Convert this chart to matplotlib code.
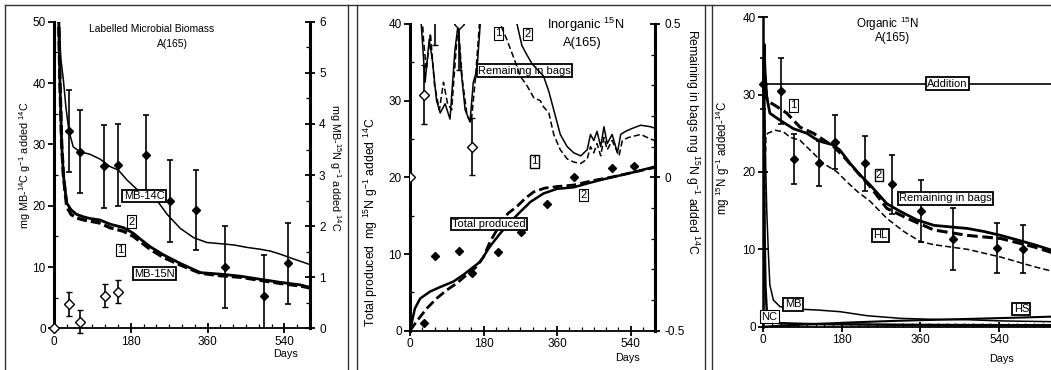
import numpy as np
import matplotlib
matplotlib.use('Agg')
import matplotlib.pyplot as plt
from matplotlib.lines import Line2D
from matplotlib.ticker import MultipleLocator, FixedLocator, FuncFormatter

plt.rcParams['font.family'] = ['Liberation Sans', 'DejaVu Sans']
plt.rcParams['mathtext.fontset'] = 'custom'
plt.rcParams['mathtext.rm'] = 'Liberation Sans'
plt.rcParams['mathtext.it'] = 'Liberation Sans:italic'
plt.rcParams['mathtext.default'] = 'regular'

# ---------------- DATA ----------------
# Panel 1: Labelled microbial biomass
obs_days_1 = [35, 61, 118, 150, 215, 272, 333, 400, 493, 548]
mb14c_obs = [32.2, 28.8, 26.4, 26.7, 28.2, 20.8, 19.3, 10.0, 5.3, 10.6]
mb14c_err = [6.7, 6.8, 6.7, 6.7, 6.6, 6.7, 6.6, 6.7, 6.7, 6.6]
mb15n_obs_days = [0, 35, 62, 119, 151]
mb15n_obs = [0.0, 0.48, 0.13, 0.64, 0.72]
mb15n_err = [0.0, 0.23, 0.23, 0.23, 0.22]

mb14c_model_days = [0, 2, 8, 12, 16, 22, 28, 35, 45, 61, 84, 108, 131, 151, 171, 200,
                    230, 241, 265, 296, 327, 358, 390, 421, 452, 483, 507, 530, 562, 600]
mb14c_model = [0, 80, 60, 50, 44, 40.5, 36, 32.2, 29.6, 28.8, 28.4, 27.6, 26.4, 25.8, 24.2, 22.3,
               21.2, 20.9, 18.6, 16.3, 14.8, 14.0, 13.8, 13.6, 13.2, 12.9, 12.6, 12.1, 11.3, 10.4]

mb15n_model_days = [0, 2, 8, 10, 14, 18, 22, 27, 30, 40, 53, 70, 84, 108, 131, 163, 186,
                    205, 225, 256, 296, 343, 390, 437, 483, 530, 577, 600]
mb15n_model2 = [0, 12, 7.5, 6.5, 4.8, 3.6, 3.0, 2.64, 2.45, 2.32, 2.23, 2.18, 2.15, 2.12, 2.04,
                1.97, 1.86, 1.73, 1.60, 1.44, 1.27, 1.09, 1.06, 1.02, 0.96, 0.90, 0.85, 0.80]
mb15n_model1 = [0, 12, 7.5, 6.5, 4.8, 3.6, 3.0, 2.60, 2.38, 2.23, 2.16, 2.12, 2.10, 2.06, 1.97,
                1.90, 1.80, 1.68, 1.55, 1.39, 1.24, 1.08, 1.03, 1.00, 0.94, 0.88, 0.83, 0.79]

# Panel 2: Inorganic 15N
obs_days_2 = [35, 62, 119, 151, 216, 273, 335, 401, 494, 549]
total_obs = [1.0, 9.7, 10.4, 7.5, 10.2, 12.9, 16.5, 20.1, 21.2, 21.5]
bag_obs_days = [0, 35, 62, 119, 151]
bag_obs = [0.0, 0.27, 0.56, 0.5, 0.10]
bag_err = [0.0, 0.095, 0.13, 0.15, 0.093]

total2_days = [0, 5, 12, 25, 49, 74, 106, 131, 155, 172, 196, 221, 246, 270, 295, 327, 360,
               401, 434, 470, 510, 550, 600]
total2 = [0, 1.2, 2.9, 4.2, 5.1, 5.7, 6.4, 7.3, 8.3, 9.0, 11.0, 12.7, 14.2, 15.5, 16.8, 17.9,
          18.5, 18.7, 19.2, 19.7, 20.2, 20.7, 21.4]
total1_days = [0, 16, 41, 65, 90, 115, 139, 160, 180, 196, 220, 240, 262, 283, 303, 330, 360,
               401, 450, 500, 550, 600]
total1 = [0, 1.2, 2.9, 4.2, 5.3, 6.2, 7.3, 8.2, 9.6, 11.6, 13.8, 15.3, 16.2, 17.3, 18.1, 18.6,
          18.8, 19.0, 19.6, 20.1, 20.7, 21.3]

bag2_days = [0, 2, 22, 25, 37, 47, 55, 65, 74, 86, 98, 110, 118, 125, 135, 147, 155, 164, 172,
             180, 250, 262, 274, 286, 299, 313, 327, 340, 352, 368, 385, 401, 418, 434, 442, 450,
             458, 467, 475, 483, 495, 508, 516, 528, 545, 565, 589, 600]
bag2 = [0.0, 1.0, 0.8, 0.55, 0.31, 0.45, 0.38, 0.25, 0.21, 0.24, 0.19, 0.415, 0.5, 0.35, 0.22,
        0.18, 0.31, 0.35, 0.5, 0.7, 0.6, 0.5, 0.43, 0.40, 0.37, 0.35, 0.33, 0.28, 0.22, 0.14,
        0.10, 0.08, 0.07, 0.09, 0.14, 0.12, 0.15, 0.10, 0.165, 0.11, 0.14, 0.08, 0.14, 0.15,
        0.16, 0.17, 0.165, 0.16]
bag1_days = [0, 2, 27, 33, 40, 50, 60, 72, 82, 92, 102, 112, 118, 128, 140, 150, 160, 170, 180,
             215, 221, 237, 254, 270, 286, 303, 319, 327, 340, 352, 368, 385, 401, 418, 434, 442,
             450, 458, 467, 475, 483, 495, 512, 520, 535, 565, 589, 600]
bag1 = [0.0, 1.0, 0.6, 0.45, 0.35, 0.47, 0.30, 0.22, 0.31, 0.24, 0.22, 0.40, 0.5, 0.32, 0.20,
        0.18, 0.32, 0.5, 0.7, 0.6, 0.5, 0.45, 0.39, 0.33, 0.30, 0.26, 0.25, 0.23, 0.21, 0.14,
        0.09, 0.06, 0.05, 0.045, 0.06, 0.10, 0.08, 0.11, 0.07, 0.13, 0.09, 0.12, 0.07, 0.12,
        0.13, 0.14, 0.125, 0.12]

# Panel 3: Organic 15N
obs_days_3 = [0, 40, 70, 128, 165, 234, 295, 361, 435, 535, 594]
org_obs = [31.4, 30.5, 21.7, 21.1, 23.9, 21.1, 18.4, 15.0, 11.3, 10.2, 10.0]
org_err = [3.3, 4.3, 3.2, 2.9, 3.5, 3.5, 3.8, 4.0, 4.0, 3.2, 3.1]
addition = 31.4

rem2_days = [0, 1, 2, 4, 8, 15, 38, 69, 100, 119, 134, 161, 176, 199, 222, 245, 283, 314, 352,
             391, 429, 468, 506, 544, 583, 621, 660]
rem2 = [31.4, 34, 36.5, 33, 29.7, 27.6, 26.7, 25.6, 25.0, 24.3, 23.9, 23.5, 22.8, 21.1, 19.6,
        18.3, 15.9, 14.9, 13.8, 13.1, 12.9, 12.7, 12.3, 11.8, 11.2, 10.6, 9.9]
rem1_days = [0, 1, 2, 4, 8, 15, 27, 54, 84, 115, 161, 184, 215, 245, 283, 330, 391, 468, 544,
             621, 660]
rem1 = [31.4, 33, 35, 31, 29.5, 29.0, 28.6, 27.6, 25.8, 25.0, 23.3, 22.0, 20.0, 18.1, 15.3,
        14.0, 12.5, 11.8, 11.4, 10.3, 9.6]
hl_days = [0, 2, 4, 6, 10, 27, 46, 61, 84, 115, 138, 169, 192, 215, 245, 283, 322, 360, 391,
           468, 544, 621, 660]
hl = [0, 10, 20, 24.5, 25.0, 25.4, 25.2, 24.5, 24.1, 22.4, 21.1, 20.0, 18.7, 17.5, 16.2, 14.0,
      12.3, 11.0, 10.6, 10.0, 9.0, 7.75, 7.2]
mb_days = [0, 1, 2, 3, 5, 8, 11.5, 15, 23, 38, 69, 123, 176, 238, 314, 391, 468, 544, 660]
mb = [0, 25, 36, 32, 22, 14.9, 9.7, 5.4, 3.45, 2.6, 2.3, 2.16, 1.94, 1.42, 1.08, 0.95, 0.9,
      0.75, 0.65]
nc_days = [0, 1, 2, 3, 5, 8, 12, 20, 40, 100, 200, 300, 400, 500, 660]
nc = [31.4, 28, 20, 12, 5, 2.0, 1.0, 0.6, 0.45, 0.35, 0.3, 0.25, 0.22, 0.2, 0.18]
hs_days = [0, 50, 100, 200, 300, 400, 500, 600, 660]
hs = [0, 0.15, 0.3, 0.55, 0.75, 0.9, 1.05, 1.2, 1.3]

x_major = [0, 180, 360, 540]

# ---------------- FIGURE ----------------
W, H = 1051, 370
fig = plt.figure(figsize=(W / 100, H / 100), dpi=100)


def axes_px(x0, x1, ytop, ybot):
    return fig.add_axes([x0 / W, (H - ybot) / H, (x1 - x0) / W, (ybot - ytop) / H])


def fline(xs, ys, lw=1.0):
    fig.add_artist(Line2D([x / W for x in xs], [1 - y / H for y in ys],
                          color='#333333', lw=lw, transform=fig.transFigure))


# panel frames
fline([5, 1051], [5, 5], 1.0)
for xb in [5, 348, 357, 705, 712]:
    fline([xb, xb], [5, 370], 1.0)

TS = 8.5   # tick label size
LS = 8.0   # box label size


def style(ax, xmax, minor_x=30):
    ax.spines['top'].set_visible(False)
    ax.spines['right'].set_visible(False)
    ax.spines['left'].set_linewidth(2.2)
    ax.spines['bottom'].set_linewidth(1.3)
    ax.set_xlim(0, xmax)
    ax.xaxis.set_major_locator(FixedLocator(x_major))
    ax.xaxis.set_minor_locator(MultipleLocator(minor_x))
    ax.tick_params(axis='x', which='major', direction='inout', length=7, width=1.3,
                   labelsize=TS, pad=2)
    ax.tick_params(axis='x', which='minor', direction='in', length=3, width=0.9)
    ax.tick_params(axis='y', which='major', direction='out', length=4, width=1.3,
                   labelsize=TS, pad=2)
    ax.tick_params(axis='y', which='minor', direction='in', length=3, width=0.9)
    ax.patch.set_alpha(0)


def twin_style(ax2):
    for s in ['top', 'left', 'bottom']:
        ax2.spines[s].set_visible(False)
    ax2.spines['right'].set_linewidth(2.2)
    ax2.tick_params(axis='y', which='major', direction='inout', length=7, width=1.3,
                    labelsize=TS, pad=3)
    ax2.tick_params(axis='y', which='minor', direction='in', length=3, width=0.9)


def box(ax, x, y, s, lw=1.0, fs=LS):
    ax.text(x, y, s, ha='center', va='center', fontsize=fs, zorder=20,
            bbox=dict(boxstyle='square,pad=0.12', fc='white', ec='black', lw=lw))


# ---------- Panel 1 ----------
ax1 = axes_px(54, 310, 21.8, 328.3)
style(ax1, 600)
ax1.set_ylim(0, 50)
ax1.yaxis.set_major_locator(MultipleLocator(10))
ax1.yaxis.set_minor_locator(MultipleLocator(5))
ax1r = ax1.twinx()
twin_style(ax1r)
ax1r.set_ylim(0, 6)
ax1r.yaxis.set_major_locator(MultipleLocator(1))
ax1r.yaxis.set_minor_locator(MultipleLocator(0.5))

ax1.plot(mb14c_model_days, mb14c_model, color='k', lw=1.1)
ax1.errorbar(obs_days_1, mb14c_obs, yerr=mb14c_err, fmt='D', ms=4, color='k',
             capsize=2.5, elinewidth=1.2, capthick=1.2, zorder=5)
ax1r.plot(mb15n_model_days, mb15n_model2, color='k', lw=2.0)
ax1r.plot(mb15n_model_days, mb15n_model1, color='k', lw=2.4, dashes=(3, 1.2))
ax1r.errorbar(mb15n_obs_days, mb15n_obs, yerr=mb15n_err, fmt='D', ms=5.5, mfc='white',
              mec='k', mew=1.0, color='k', capsize=2.5, elinewidth=1.2, capthick=1.2,
              zorder=6, clip_on=False)

ax1.text(228, 48.9, 'Labelled Microbial Biomass', ha='center', va='center', fontsize=7.4)
ax1.text(277, 46.4, 'A(165)', ha='center', va='center', fontsize=7.4)
box(ax1r, 211, 21.6 / 50 * 6, 'MB-14C', lw=1.3)
box(ax1r, 182, 17.4 / 50 * 6, '2', lw=0.8)
box(ax1r, 155, 12.8 / 50 * 6, '1', lw=0.8)
box(ax1r, 236, 8.9 / 50 * 6, 'MB-15N', lw=1.3)

fig.text(25 / W, 1 - 165 / H, r'mg MB-$^{14}$C g$^{-1}$ added $^{14}$C', rotation=90,
         ha='center', va='center', fontsize=7.8)
fig.text(335 / W, 1 - 168 / H, r'mg MB-$^{15}$N g$^{-1}$ added $^{14}$C', rotation=-90,
         ha='center', va='center', fontsize=7.8)
fig.text(285 / W, 1 - 354 / H, 'Days', ha='center', va='center', fontsize=7.8)

# ---------- Panel 2 ----------
ax2 = axes_px(410, 655, 24, 330.7)
style(ax2, 600)
ax2.set_ylim(0, 40)
ax2.yaxis.set_major_locator(MultipleLocator(10))
ax2.yaxis.set_minor_locator(MultipleLocator(5))
ax2r = ax2.twinx()
twin_style(ax2r)
ax2r.set_ylim(-0.5, 0.5)
ax2r.yaxis.set_major_locator(MultipleLocator(0.5))
ax2r.yaxis.set_minor_locator(MultipleLocator(0.1))
ax2r.yaxis.set_major_formatter(FuncFormatter(
    lambda v, p: '0' if abs(v) < 1e-9 else ('%g' % v)))

ax2.plot(total2_days, total2, color='k', lw=1.8)
ax2.plot(total1_days, total1, color='k', lw=2.0, dashes=(3.5, 1.5))
ax2.plot(obs_days_2, total_obs, 'D', ms=4, color='k', zorder=5)
ax2r.plot(bag2_days, bag2, color='k', lw=1.1)
ax2r.plot(bag1_days, bag1, color='k', lw=1.1, dashes=(4, 2))
ax2r.errorbar(bag_obs_days, bag_obs, yerr=bag_err, fmt='D', ms=5.5, mfc='white', mec='k',
              mew=1.0, color='k', capsize=2.5, elinewidth=1.2, capthick=1.2, zorder=6)

ax2.text(430, 39.9, 'Inorganic $^{15}$N', ha='center', va='center', fontsize=9.3)
ax2.text(422, 37.5, 'A(165)', ha='center', va='center', fontsize=9.3)
box(ax2, 216, 38.8, '1', lw=0.8)
box(ax2, 287, 38.7, '2', lw=0.8)
box(ax2, 280, 33.9, 'Remaining in bags', lw=1.3)
box(ax2, 305, 22.1, '1', lw=1.0)
box(ax2, 425, 17.7, '2', lw=0.8)
box(ax2, 194, 13.9, 'Total produced', lw=1.3)

fig.text(371 / W, 1 - 222 / H, r'Total produced  mg $^{15}$N g$^{-1}$ added $^{14}$C',
         rotation=90, ha='center', va='center', fontsize=8.8)
fig.text(692 / W, 1 - 142 / H, r'Remaining in bags mg $^{15}$N g$^{-1}$ added $^{14}$C',
         rotation=-90, ha='center', va='center', fontsize=8.8)
fig.text(628 / W, 1 - 358 / H, 'Days', ha='center', va='center', fontsize=7.8)

# ---------- Panel 3 ----------
ax3 = axes_px(763.3, 1051, 17.3, 326.7)
style(ax3, 659, minor_x=20)
ax3.spines['left'].set_linewidth(1.8)
ax3.set_ylim(0, 40)
ax3.yaxis.set_major_locator(MultipleLocator(10))
ax3.tick_params(axis='y', which='major', direction='inout', length=7)

ax3.axhline(addition, color='k', lw=1.2)
ax3.plot(rem2_days, rem2, color='k', lw=2.0)
ax3.plot(rem1_days, rem1, color='k', lw=2.2, dashes=(3.5, 1.5))
ax3.plot(hl_days, hl, color='k', lw=1.1, dashes=(4, 2))
ax3.plot(mb_days, mb, color='k', lw=1.1)
ax3.plot(nc_days, nc, color='k', lw=1.8)
ax3.plot(hs_days, hs, color='k', lw=1.5)
ax3.errorbar(obs_days_3, org_obs, yerr=org_err, fmt='D', ms=4, color='k', capsize=2.5,
             elinewidth=1.2, capthick=1.2, zorder=5, clip_on=False)

ax3.text(285, 39.2, 'Organic $^{15}$N', ha='center', va='center', fontsize=8.4)
ax3.text(297, 37.3, 'A(165)', ha='center', va='center', fontsize=8.4)
box(ax3, 422, 31.4, 'Addition', lw=1.3)
box(ax3, 69, 28.6, '1', lw=0.8)
box(ax3, 265, 19.6, '2', lw=1.0)
box(ax3, 418, 16.6, 'Remaining in bags', lw=1.3)
box(ax3, 268, 11.8, 'HL', lw=1.3)
box(ax3, 68, 2.9, 'MB', lw=1.3)
box(ax3, 14, 1.3, 'NC', lw=0.8)
box(ax3, 591, 2.3, 'HS', lw=1.3)

fig.text(723 / W, 1 - 158 / H, r'mg $^{15}$N g$^{-1}$ added-$^{14}$C', rotation=90,
         ha='center', va='center', fontsize=8.3)
fig.text(1001 / W, 1 - 359 / H, 'Days', ha='center', va='center', fontsize=7.8)

fig.savefig('out.png', dpi=100, facecolor='white')
